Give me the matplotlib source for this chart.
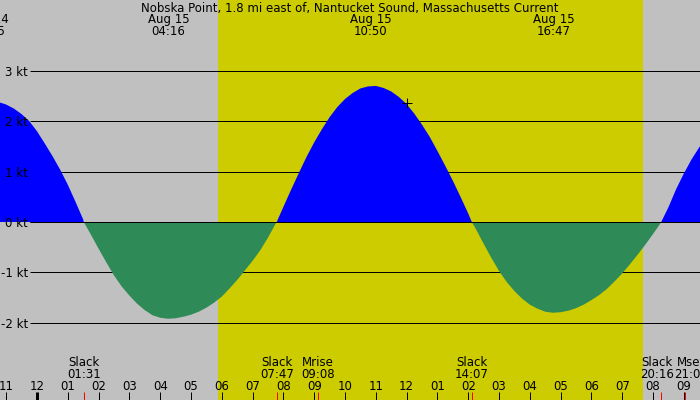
import numpy as np
import matplotlib.pyplot as plt

# current speed (kt) read every quarter hour, hours after midnight Aug 15
times = np.arange(-1.5, 22.01, 0.25)
speeds = [2.41, 2.38, 2.33, 2.25, 2.14, 2.00, 1.80, 1.56, 1.31, 1.04, 0.74, 0.40, 0.05,
          -0.25, -0.53, -0.80, -1.06, -1.28, -1.46, -1.62, -1.75, -1.85, -1.90, -1.92, -1.91,
          -1.88, -1.84, -1.78, -1.70, -1.60, -1.48, -1.32, -1.15, -0.96, -0.77, -0.56, -0.31, -0.03,
          0.30, 0.64, 0.97, 1.29, 1.58, 1.84, 2.08, 2.28, 2.44, 2.56, 2.65, 2.69, 2.70,
          2.66, 2.59, 2.48, 2.34, 2.15, 1.93, 1.69, 1.41, 1.12, 0.82, 0.50, 0.17,
          -0.14, -0.43, -0.71, -0.97, -1.19, -1.37, -1.52, -1.64, -1.72, -1.78, -1.80, -1.79,
          -1.76, -1.71, -1.64, -1.55, -1.45, -1.33, -1.18, -1.02, -0.84, -0.65, -0.45, -0.24, -0.02,
          0.29, 0.65, 0.96, 1.24, 1.48, 1.70, 1.90]

# max current events
max_days = ["Aug 14", "Aug 15", "Aug 15", "Aug 15"]
max_clock = ["22:25", "04:16", "10:50", "16:47"]

# slack and moon events along the bottom
event_names = ["Slack", "Slack", "Mrise", "Slack", "Slack", "Mset"]
event_clock = ["01:31", "07:47", "09:08", "14:07", "20:16", "21:02"]
event_shift = [0, 0, 0, 0, -4, 6]  # label nudges in pixels
slack_clock = ["01:31", "07:47", "14:07", "20:16"]

sunrise, sunset = "05:53", "19:41"
levels = [3, 2, 1, 0, -1, -2]
now_time, now_speed = 12.0, 2.37

title = "Nobska Point, 1.8 mi east of, Nantucket Sound, Massachusetts Current"

# pixel layout of the 700x400 picture
PX_H, X0 = 30.8, 37.0
PX_KT, Y0 = 50.4, 222.0
FS = 8.5
LW = 0.72


def hrs(clock, day="Aug 15"):
    h, m = clock.split(":")
    t = int(h) + int(m) / 60
    if day == "Aug 14":
        t -= 24
    return t


def px_x(x):
    return (x - X0) / PX_H


def px_y(y):
    return (Y0 - y) / PX_KT


max_times = [hrs(c, d) for c, d in zip(max_clock, max_days)]
slack_times = [hrs(c) for c in slack_clock]

t = np.concatenate([times, slack_times])
v = np.concatenate([speeds, np.zeros(len(slack_times))])
order = np.argsort(t)
t, v = t[order], v[order]

fig = plt.figure(figsize=(7, 4), dpi=100, facecolor="#c0c0c0")
ax = fig.add_axes([0, 0, 1, 1])
ax.set_xlim(px_x(0), px_x(700))
ax.set_ylim(px_y(400), px_y(0))
ax.axis("off")

ax.axvspan(hrs(sunrise), hrs(sunset), color="#cccc00", lw=0, zorder=0)

for lv in levels:
    ax.hlines(lv, px_x(30), px_x(700), color="black", lw=LW, zorder=1)
    ax.text(px_x(28), lv - 5 / PX_KT, f"{lv} kt", ha="right", va="baseline",
            fontsize=FS, family="DejaVu Sans", zorder=5)

ax.fill_between(t, v, 0, where=v >= 0, interpolate=True, color="#0000ff", lw=0, zorder=2)
ax.fill_between(t, v, 0, where=v <= 0, interpolate=True, color="#2e8b57", lw=0, zorder=2)
ax.hlines(0, px_x(30), px_x(700), color="black", lw=LW, zorder=3)

ax.plot([now_time], [now_speed], marker="+", color="black", ms=6.5, mew=LW, zorder=4)

# top labels
ax.text(px_x(350), px_y(11.7), title, ha="center", va="baseline", fontsize=FS, family="DejaVu Sans")
for tm, day, clock in zip(max_times, max_days, max_clock):
    ax.text(tm, px_y(23.5), day, ha="center", va="baseline", fontsize=FS, family="DejaVu Sans")
    ax.text(tm, px_y(35), clock, ha="center", va="baseline", fontsize=FS, family="DejaVu Sans")

# hour ticks
hour_ticks = np.arange(-1, 22)
for h in hour_ticks:
    ax.vlines(h, px_y(400), px_y(392), color="black", lw=LW * 3 if h % 24 == 0 else LW, zorder=4)
    ax.text(h, px_y(390), f"{(h % 12) or 12:02d}", ha="center", va="baseline",
            fontsize=FS, family="DejaVu Sans")

# slack / moon events
for name, clock, dx in zip(event_names, event_clock, event_shift):
    tm = hrs(clock)
    ax.vlines(tm, px_y(400), px_y(392), color="red", lw=LW, zorder=5)
    xl = tm + dx / PX_H
    ax.text(xl, px_y(365.5), name, ha="center", va="baseline", fontsize=FS, family="DejaVu Sans")
    ax.text(xl, px_y(378), clock, ha="center", va="baseline", fontsize=FS, family="DejaVu Sans")

fig.savefig("out.png", dpi=100)
